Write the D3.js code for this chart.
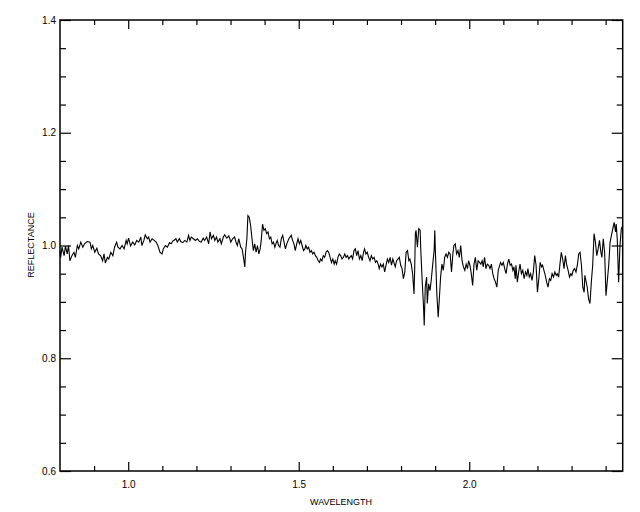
<!DOCTYPE html>
<html>
<head>
<meta charset="utf-8">
<script src="https://cdn.jsdelivr.net/npm/d3@7"></script>
<style>
  html, body { margin: 0; padding: 0; background: #fff; }
  svg { display: block; }
  text { font-family: "Liberation Sans", Arial, sans-serif; fill: #000; }
</style>
</head>
<body>
<svg id="chart" width="640" height="512"></svg>
<script>
// ---------- data ----------
const wavelength = [
  0.800,0.802,0.806,0.812,0.816,0.821,0.825,0.829,0.835,0.841,
  0.845,0.851,0.855,0.861,0.867,0.872,0.880,0.888,0.892,0.896,
  0.902,0.908,0.913,0.919,0.925,0.929,0.933,0.939,0.943,0.949,
  0.955,0.960,0.966,0.970,0.976,0.982,0.988,0.994,0.997,1.001,
  1.007,1.013,1.019,1.025,1.031,1.037,1.040,1.046,1.050,1.056,
  1.060,1.064,1.070,1.076,1.082,1.087,1.093,1.099,1.103,1.109,
  1.115,1.121,1.126,1.132,
  1.134,1.140,1.144,1.150,1.154,1.160,1.166,1.172,1.177,1.181,
  1.185,1.191,1.197,1.203,1.209,1.214,1.220,1.224,1.230,1.236,
  1.240,1.244,1.250,1.254,1.259,1.263,1.269,1.273,1.279,1.283,
  1.289,1.295,1.301,1.306,1.312,1.316,1.320,1.324,1.330,1.334,
  1.338,1.342,1.344,1.348,1.351,1.355,1.359,1.363,1.367,1.371,
  1.375,1.379,1.383,1.387,1.390,1.394,1.398,1.402,1.406,1.410,
  1.414,1.418,1.422,1.426,1.430,1.433,1.437,1.441,1.445,1.449,
  1.453,1.457,1.461,1.465,1.471,
  1.478,1.482,1.486,1.490,1.494,1.498,1.502,1.506,1.510,1.514,
  1.518,1.521,1.525,1.529,1.533,1.537,1.541,1.545,1.549,1.553,
  1.557,1.561,1.564,1.568,1.572,1.576,1.580,1.584,1.588,1.592,
  1.596,1.600,1.604,1.607,1.611,1.615,1.619,1.623,1.627,1.631,
  1.635,1.639,1.643,1.647,1.650,1.654,1.658,1.662,1.666,1.670,
  1.674,1.678,1.682,1.686,1.690,1.693,1.697,1.701,1.705,1.709,
  1.713,1.717,1.721,1.725,1.729,1.733,1.736,1.740,1.744,1.748,
  1.752,1.756,1.760,1.764,1.768,1.772,1.776,1.779,1.783,1.787,
  1.791,1.795,1.799,1.803,1.807,1.811,
  1.815,1.819,1.823,1.826,1.830,1.834,1.838,1.840,1.842,1.844,
  1.848,1.852,1.856,1.858,1.862,1.866,1.868,1.871,1.875,1.877,
  1.881,1.885,1.889,1.893,1.897,1.899,1.901,1.905,1.909,1.912,
  1.916,1.920,1.924,1.928,1.932,1.936,1.940,1.944,1.948,1.952,
  1.955,1.959,1.963,1.967,1.971,1.975,1.979,1.983,1.987,1.991,
  1.995,1.998,2.002,2.006,2.010,2.014,2.018,2.022,2.026,2.030,
  2.034,2.038,2.041,2.045,2.049,2.053,2.057,2.061,2.065,2.069,
  2.073,2.077,2.081,2.085,2.088,2.092,2.096,2.100,2.104,2.108,
  2.112,2.116,2.120,2.124,2.128,2.131,2.135,
  2.137,2.141,2.145,2.149,2.153,2.157,2.161,2.165,2.169,2.172,
  2.176,2.180,2.184,2.188,2.192,2.196,2.200,2.204,2.208,2.212,
  2.215,2.219,2.223,2.227,2.231,2.235,2.239,2.243,2.247,2.251,
  2.255,2.258,2.262,2.266,2.270,2.274,2.278,2.282,2.286,2.290,
  2.294,2.298,2.301,2.305,2.309,2.313,2.317,2.321,2.325,2.329,
  2.333,2.337,2.339,2.343,2.346,2.350,2.354,2.358,2.362,2.366,
  2.370,2.374,2.378,2.382,2.386,2.389,2.393,2.397,2.401,2.405,
  2.409,2.413,2.417,2.421,2.425,2.429,2.431,2.434,2.438,2.442,
  2.446,2.450
];
const reflectance = [
  0.990,0.979,0.997,0.982,0.999,0.985,1.000,0.973,0.982,0.988,
  0.979,1.000,0.994,1.006,0.997,1.003,1.007,1.006,0.994,1.000,
  0.988,0.995,0.985,0.982,0.973,0.985,0.969,0.979,0.976,0.988,
  0.982,0.997,1.006,0.997,0.994,1.000,0.994,1.009,1.003,1.013,
  0.999,1.006,1.001,1.009,1.006,1.015,1.000,1.009,1.019,1.012,
  1.015,1.006,1.012,1.009,1.006,1.000,0.988,0.985,0.994,1.000,
  0.997,1.005,1.003,1.009,
  1.009,1.012,1.006,1.012,1.007,1.005,1.009,1.006,1.018,1.009,
  1.015,1.012,1.009,1.012,1.007,1.006,1.013,1.009,1.015,1.003,
  1.024,1.012,1.018,1.009,1.015,1.006,1.012,1.003,1.015,1.019,
  1.013,1.017,1.006,1.012,1.015,1.006,1.000,1.012,0.997,0.994,
  0.979,0.962,0.988,1.012,1.053,1.050,1.035,1.012,0.991,1.003,
  0.988,1.000,0.985,0.994,1.009,1.038,1.027,1.030,1.021,1.024,
  1.012,1.015,1.003,1.006,0.997,1.003,1.009,1.000,0.997,1.012,
  1.018,1.006,0.994,1.003,1.012,
  1.018,1.009,1.003,0.991,1.003,1.012,1.003,1.009,1.000,0.991,
  0.994,1.000,0.994,0.997,0.988,0.991,0.985,0.988,0.982,0.979,
  0.973,0.970,0.976,0.973,0.982,0.979,0.988,0.991,0.988,0.979,
  0.970,0.976,0.967,0.973,0.967,0.979,0.985,0.982,0.976,0.979,
  0.985,0.979,0.982,0.976,0.979,0.982,0.976,0.991,0.994,0.982,
  0.991,0.976,0.982,0.973,0.988,0.994,0.985,0.988,0.979,0.973,
  0.982,0.976,0.979,0.970,0.973,0.967,0.959,0.967,0.962,0.967,
  0.953,0.965,0.976,0.970,0.979,0.965,0.976,0.970,0.962,0.973,
  0.976,0.979,0.965,0.959,0.941,0.953,
  0.988,0.991,0.973,0.976,0.967,0.950,0.914,0.956,1.021,1.027,
  0.997,1.030,1.027,0.991,0.938,0.891,0.858,0.926,0.944,0.897,
  0.932,0.920,0.941,0.967,0.991,1.027,0.985,0.914,0.873,0.902,
  0.944,0.967,0.956,0.979,0.985,0.979,0.988,0.985,0.953,0.985,
  1.000,1.003,0.985,0.991,0.979,1.000,0.973,0.962,0.956,0.967,
  0.959,0.973,0.965,0.950,0.929,0.967,0.979,0.956,0.973,0.970,
  0.967,0.973,0.962,0.979,0.959,0.967,0.965,0.959,0.967,0.950,
  0.941,0.935,0.926,0.956,0.962,0.970,0.965,0.970,0.959,0.950,
  0.967,0.976,0.965,0.967,0.956,0.962,0.941,
  0.965,0.935,0.953,0.967,0.950,0.956,0.941,0.953,0.947,0.959,
  0.944,0.950,0.938,0.953,0.982,0.965,0.917,0.941,0.970,0.962,
  0.965,0.956,0.947,0.935,0.926,0.941,0.938,0.950,0.944,0.953,
  0.947,0.950,0.944,0.967,0.988,0.976,0.959,0.982,0.965,0.956,
  0.944,0.950,0.947,0.956,0.959,0.953,0.965,0.985,0.988,0.965,
  0.926,0.917,0.947,0.935,0.926,0.905,0.897,0.935,0.965,1.021,
  1.006,0.982,0.994,1.009,0.988,0.979,1.012,0.988,0.911,0.938,
  0.965,1.006,1.018,1.030,1.041,1.024,1.038,1.012,0.935,1.000,
  1.030,1.035
];
const xMajorTicks = [1.0, 1.5, 2.0];
const xMinorTicks = [0.9,1.1,1.2,1.3,1.4,1.6,1.7,1.8,1.9,2.1,2.2,2.3,2.4];
const yMajorTicks = [0.6, 0.8, 1.0, 1.2, 1.4];
const yMinorTicks = [0.65,0.7,0.75,0.85,0.9,0.95,1.05,1.1,1.15,1.25,1.3,1.35];
const xTitle = "WAVELENGTH";
const yTitle = "REFLECTANCE";

// ---------- layout ----------
const svg = d3.select("#chart");
const L = 60, R = 622.7, T = 20, B = 471;
const x = d3.scaleLinear().domain([0.8, 2.45]).range([L, R]);
const y = d3.scaleLinear().domain([0.6, 1.4]).range([B, T]);

svg.append("rect").attr("width", 640).attr("height", 512).attr("fill", "#fff");

function axisGroup(axis, tx, ty) {
  const g = svg.append("g").attr("transform", `translate(${tx},${ty})`).call(axis);
  g.select(".domain").remove();
  g.selectAll(".tick line").attr("stroke", "#000").attr("stroke-width", 1.2);
  g.selectAll("text").style("font-size", "10px").style("font-family", '"Liberation Sans", Arial, sans-serif');
  return g;
}
const fmt = d3.format(".1f");

// bottom
axisGroup(d3.axisBottom(x).tickValues(xMinorTicks).tickSize(-5).tickFormat(""), 0, B);
axisGroup(d3.axisBottom(x).tickValues(xMajorTicks).tickSize(-9).tickPadding(10).tickFormat(fmt), 0, B);
// top
axisGroup(d3.axisTop(x).tickValues(xMinorTicks).tickSize(-5).tickFormat(""), 0, T);
axisGroup(d3.axisTop(x).tickValues(xMajorTicks).tickSize(-9).tickFormat(""), 0, T);
// left
axisGroup(d3.axisLeft(y).tickValues(yMinorTicks).tickSize(-6).tickFormat(""), L, 0);
axisGroup(d3.axisLeft(y).tickValues(yMajorTicks).tickSize(-11).tickPadding(4).tickFormat(fmt), L, 0);
// right
axisGroup(d3.axisRight(y).tickValues(yMinorTicks).tickSize(-6).tickFormat(""), R, 0);
axisGroup(d3.axisRight(y).tickValues(yMajorTicks).tickSize(-11).tickFormat(""), R, 0);

// frame
svg.append("rect")
  .attr("x", L).attr("y", T).attr("width", R - L).attr("height", B - T)
  .attr("fill", "none").attr("stroke", "#000").attr("stroke-width", 1.5);

// spectrum line
const pts = wavelength.map((w, i) => [w, reflectance[i]]);
const line = d3.line().x(d => x(d[0])).y(d => y(d[1]));
svg.append("path")
  .datum(pts)
  .attr("d", line)
  .attr("fill", "none")
  .attr("stroke", "#000")
  .attr("stroke-width", 1.1)
  .attr("stroke-linejoin", "miter");

// titles
svg.append("text")
  .attr("x", 341).attr("y", 505)
  .attr("text-anchor", "middle")
  .style("font-size", "9px")
  .text(xTitle);
svg.append("text")
  .attr("transform", "translate(34,245) rotate(-90)")
  .attr("text-anchor", "middle")
  .style("font-size", "9px")
  .text(yTitle);
</script>
</body>
</html>
